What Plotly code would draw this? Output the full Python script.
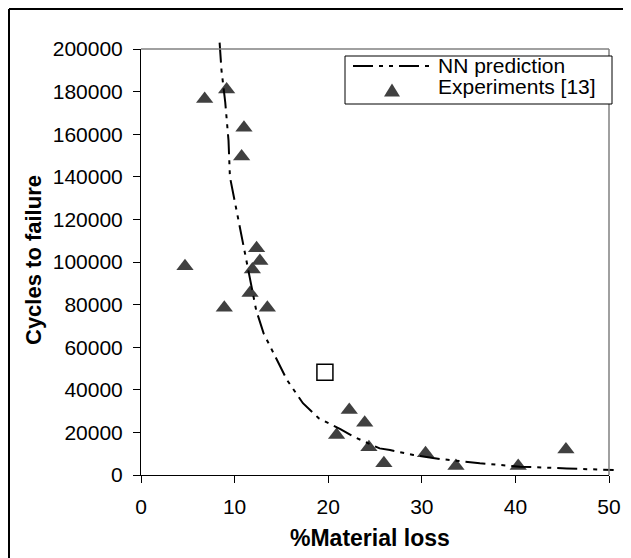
import plotly.graph_objects as go

# ---------------- data ----------------
nn_x = [8.4, 8.6, 9.0, 9.35, 9.5, 10.0, 10.2, 10.9, 11.6, 12.3, 13.1, 14.1, 15.6,
        17.3, 19.0, 21.3, 22.7, 25.5, 26.6, 29.1, 32.0, 36.2, 40.5, 45.5, 50.5]
nn_y = [203000, 190000, 175000, 157000, 140000, 129000, 124000, 109000, 92000,
        77500, 66500, 58000, 44600, 33700, 26600, 21500, 18000, 12500, 11700,
        9400, 7500, 5500, 3900, 3100, 2300]

exp_x = [4.7, 6.8, 9.15, 11.0, 10.75, 12.35, 12.7, 11.9, 11.65, 8.9, 13.5,
         22.25, 23.9, 20.9, 24.35, 25.95, 30.4, 33.65, 40.3, 45.4]
exp_y = [98000, 176500, 181000, 163000, 149500, 106500, 100500, 96500, 85500,
         78500, 78500, 30500, 24500, 18800, 13000, 5500, 10200, 4200, 4200, 12000]

sq_x = [19.65]
sq_y = [48200]

x_ticks = [0, 10, 20, 30, 40, 50]
y_ticks = [0, 20000, 40000, 60000, 80000, 100000, 120000, 140000, 160000, 180000, 200000]

legend_labels = ["NN prediction", "Experiments [13]"]
x_title = "%Material loss"
y_title = "Cycles to failure"

# ---------------- geometry (screen pixels; page has 8px body margin) ----------------
OFF = 8
W, H = 631 - OFF, 558 - OFF
LS, RS, TS, BS = 141, 616, 40, 475     # outer plot area in screen px
L, T = LS - OFF, TS - OFF
R = W - (RS - OFF)
B = H - (BS - OFF)
PW, PH = RS - LS, BS - TS              # 475 x 435
XMAX, YMAX = 50, 200000
dom_x = 468 / PW                       # main axes domain fraction
dom_y = 426 / PH

def px(xp):
    return (xp - LS) / PW

def py(yp):
    return (BS - yp) / PH

FONT = "Arial, Liberation Sans, sans-serif"
DASH = "20px,6px,4px,6px,4px,6px"

fig = go.Figure()

fig.add_trace(go.Scatter(
    x=exp_x, y=exp_y, mode="markers", name=legend_labels[1], showlegend=False,
    marker=dict(symbol="triangle-up", size=15, color="#404040",
                line=dict(width=0)), cliponaxis=False))

fig.add_trace(go.Scatter(
    x=sq_x, y=sq_y, mode="markers", showlegend=False,
    marker=dict(symbol="square-open", size=16, color="black",
                line=dict(width=1.5, color="black"))))

# NN prediction on a second (same-scale) axis pair whose area extends slightly past the frame
fig.add_trace(go.Scatter(
    x=nn_x, y=nn_y, mode="lines", xaxis="x2", yaxis="y2",
    line=dict(color="black", width=2, dash=DASH), showlegend=False,
    name=legend_labels[0]))

axis_common = dict(showgrid=False, zeroline=False, showline=True,
                   linecolor="black", linewidth=1, ticks="outside",
                   ticklen=7, tickcolor="black", tickwidth=1, automargin=False,
                   tickfont=dict(family=FONT, size=21, color="black"))

fig.update_layout(
    template="none",
    width=W, height=H, autosize=False,
    margin=dict(l=L, r=R, t=T, b=B, pad=0, autoexpand=False),
    paper_bgcolor="white", plot_bgcolor="rgba(0,0,0,0)",
    font=dict(family=FONT, color="black"),
    showlegend=False,
    xaxis=dict(domain=[0, dom_x], range=[0, XMAX], tickvals=x_ticks,
               ticktext=[str(v) for v in x_ticks], anchor="y",
               ticklabelstandoff=6, **axis_common),
    yaxis=dict(domain=[0, dom_y], range=[0, YMAX], tickvals=y_ticks,
               ticktext=[str(v) for v in y_ticks], anchor="x",
               ticklabelstandoff=6, **axis_common),
    xaxis2=dict(domain=[0, 1], range=[0, XMAX / dom_x], automargin=False,
                visible=False, anchor="y2"),
    yaxis2=dict(domain=[0, 1], range=[0, YMAX / dom_y], automargin=False,
                visible=False, anchor="x2"),
)

shapes = []
# gray top and right frame of plot area
shapes.append(dict(type="line", xref="x domain", yref="y domain",
                   x0=0, x1=1, y0=1, y1=1, line=dict(color="#808080", width=1.5)))
shapes.append(dict(type="line", xref="x domain", yref="y domain",
                   x0=1, x1=1, y0=0, y1=1, line=dict(color="#808080", width=1.5)))
# outer chart border (left and top only visible)
shapes.append(dict(type="line", xref="paper", yref="paper",
                   x0=px(9), x1=px(9), y0=py(9), y1=py(OFF + H + 2),
                   line=dict(color="black", width=2)))
shapes.append(dict(type="line", xref="paper", yref="paper",
                   x0=px(9), x1=px(OFF + W + 2), y0=py(9), y1=py(9),
                   line=dict(color="black", width=2)))
# legend box
shapes.append(dict(type="rect", xref="paper", yref="paper",
                   x0=px(345), x1=px(612), y0=py(104), y1=py(56),
                   line=dict(color="black", width=1), fillcolor="white"))
# legend line sample
shapes.append(dict(type="line", xref="paper", yref="paper",
                   x0=px(353), x1=px(433), y0=py(66), y1=py(66),
                   line=dict(color="black", width=2, dash=DASH)))
# legend triangle
cx, cy, tw, th = 392, 90, 16, 13
path = "M {:.5f},{:.5f} L {:.5f},{:.5f} L {:.5f},{:.5f} Z".format(
    px(cx - tw / 2), py(cy + th / 2), px(cx + tw / 2), py(cy + th / 2),
    px(cx), py(cy - th / 2))
shapes.append(dict(type="path", xref="paper", yref="paper", path=path,
                   fillcolor="#404040", line=dict(width=0)))
fig.update_layout(shapes=shapes)

annotations = [
    dict(text=legend_labels[0], xref="paper", yref="paper", x=px(436), y=py(66),
         xanchor="left", yanchor="middle", showarrow=False,
         font=dict(family=FONT, size=21, color="black")),
    dict(text=legend_labels[1], xref="paper", yref="paper", x=px(436), y=py(86),
         xanchor="left", yanchor="middle", showarrow=False,
         font=dict(family=FONT, size=21, color="black")),
    dict(text="<b>" + x_title + "</b>", xref="paper", yref="paper",
         x=px(370), y=py(538), xanchor="center", yanchor="middle",
         showarrow=False, font=dict(family=FONT, size=23, color="black")),
    dict(text="<b>" + y_title + "</b>", xref="paper", yref="paper",
         x=px(33), y=py(260), xanchor="center", yanchor="middle",
         textangle=-90, showarrow=False,
         font=dict(family=FONT, size=22, color="black")),
]
fig.update_layout(annotations=annotations)

fig.write_html("out.html")
